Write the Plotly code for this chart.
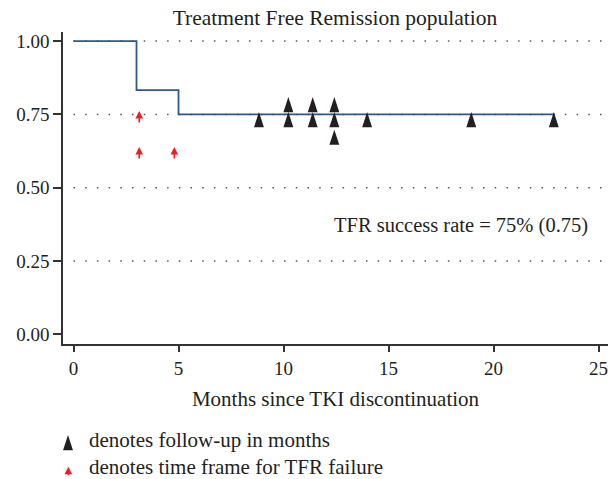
import plotly.graph_objects as go

# Kaplan-Meier step curve (Treatment Free Remission)
km_months = [0, 3.0, 5.0, 22.9]
km_survival = [1.0, 0.833, 0.75, 0.75]

# Censoring marks (follow-up), tip positions
censor_months = [8.83, 10.23, 10.23, 11.39, 11.39, 12.42, 12.42, 12.42, 13.98, 18.94, 22.87]
censor_level = [0.758, 0.809, 0.758, 0.809, 0.758, 0.809, 0.758, 0.698, 0.758, 0.758, 0.758]

# TFR failure time frames (red arrows), tip positions
failure_months = [3.13, 3.13, 4.8]
failure_level = [0.762, 0.639, 0.639]

x_ticks = [0, 5, 10, 15, 20, 25]
y_ticks = [0.0, 0.25, 0.5, 0.75, 1.0]
y_ticklabels = ["0.00", "0.25", "0.50", "0.75", "1.00"]
grid_levels = [0.25, 0.5, 0.75, 1.0]

FONT = "Liberation Serif"
TXT = "#231f20"
AX = "#333333"
TS = 21  # text size
RED = "#ed1c24"

fig = go.Figure()

fig.add_trace(go.Scatter(
    x=km_months, y=km_survival, mode="lines", line_shape="hv",
    line=dict(color="#2c5985", width=1.8), showlegend=False, hoverinfo="skip"))

fig.add_trace(go.Scatter(
    x=censor_months, y=censor_level, mode="markers",
    marker=dict(symbol="arrow", size=16, color="#231f20", line=dict(width=0)),
    showlegend=False, cliponaxis=False))

# legend icon (black triangle) on a hidden pixel-scaled overlay axis
fig.add_trace(go.Scatter(
    x=[68], y=[435], xaxis="x2", yaxis="y2", mode="markers",
    marker=dict(symbol="arrow", size=16, color="#231f20", line=dict(width=0)),
    showlegend=False, cliponaxis=False, hoverinfo="skip"))

shapes = []
for g in grid_levels:
    shapes.append(dict(type="line", xref="x", yref="y", x0=0, x1=25.2, y0=g, y1=g,
                       line=dict(color="#555555", width=1.5, dash="1.5px,10.2px"),
                       layer="below"))

annotations = []
for fx, fy in zip(failure_months, failure_level):
    annotations.append(dict(x=fx, y=fy, xref="x", yref="y", text="", showarrow=True,
                            ax=0, ay=13, arrowhead=2, arrowsize=0.95, arrowwidth=1.6,
                            arrowcolor=RED))

annotations.append(dict(x=24.6, y=0.372, xref="x", yref="y",
                        text="TFR success rate = 75% (0.75)", showarrow=False,
                        xanchor="right", yanchor="middle",
                        font=dict(family=FONT, size=TS - 0.5, color=TXT)))

annotations.append(dict(x=68.3, y=466.7, xref="x2", yref="y2", text="", showarrow=True,
                        ax=0, ay=10, arrowhead=2, arrowsize=0.95, arrowwidth=1.6,
                        arrowcolor=RED))
annotations.append(dict(x=87, y=440, xref="x2", yref="y2",
                        text="denotes follow-up in months", showarrow=False,
                        xanchor="left", yanchor="middle",
                        font=dict(family=FONT, size=TS, color=TXT)))
annotations.append(dict(x=87, y=467, xref="x2", yref="y2",
                        text="denotes time frame for TFR failure", showarrow=False,
                        xanchor="left", yanchor="middle",
                        font=dict(family=FONT, size=TS, color=TXT)))

H = 479
top, bottom_axis_px = 32, 344
main_bottom = (H - bottom_axis_px) / (H - top)

fig.update_layout(
    width=610, height=479,
    margin=dict(l=63, r=2, t=top, b=0, autoexpand=False),
    paper_bgcolor="white", plot_bgcolor="white",
    font=dict(family=FONT, size=19, color=TXT),
    title=dict(text="Treatment Free Remission population", x=335 / 610, xanchor="center",
               xref="container", yref="container", y=1 - 17 / H, yanchor="middle",
               automargin=False,
               font=dict(family=FONT, size=21.5, color=TXT)),
    xaxis=dict(range=[-0.5, 25.45], tickvals=x_ticks, showgrid=False, zeroline=False,
               showline=True, linecolor=AX, linewidth=1.5, ticks="outside", ticklen=6,
               tickwidth=1.5, tickcolor=AX, anchor="y", automargin=False,
               title=dict(text="Months since TKI discontinuation", standoff=14,
                          font=dict(family=FONT, size=TS, color=TXT)),
               tickfont=dict(family=FONT, size=19, color=TXT)),
    yaxis=dict(range=[-0.033, 1.031], domain=[main_bottom, 1], tickvals=y_ticks,
               ticktext=y_ticklabels, showgrid=False, zeroline=False,
               showline=True, linecolor=AX, linewidth=1.5, ticks="outside", ticklen=8,
               tickwidth=1.5, tickcolor=AX, anchor="x", automargin=False,
               tickfont=dict(family=FONT, size=19, color=TXT)),
    xaxis2=dict(range=[63, 608], domain=[0, 1], anchor="y2", visible=False, fixedrange=True,
                automargin=False),
    yaxis2=dict(range=[479, 344], domain=[0, main_bottom], anchor="x2", visible=False,
                fixedrange=True, automargin=False),
    shapes=shapes, annotations=annotations, showlegend=False,
)

fig.write_html("out.html", config={"displayModeBar": False},
               post_script="document.body.style.margin='0';document.body.style.overflow='hidden';")
